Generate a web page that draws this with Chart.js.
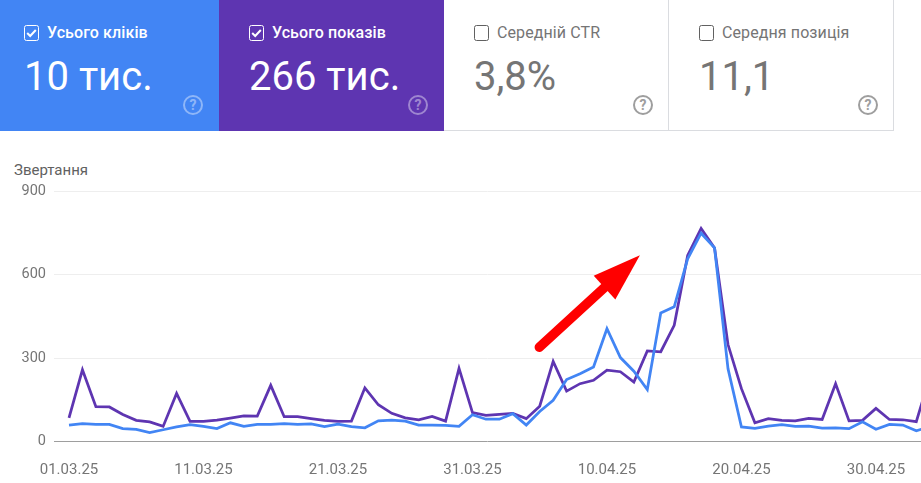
<!DOCTYPE html>
<html lang="uk">
<head>
<meta charset="utf-8">
<title>Звертання</title>
<script src="https://cdn.jsdelivr.net/npm/chart.js@4"></script>
<style>
  html, body { margin: 0; padding: 0; background: #fff; }
  body { width: 921px; height: 483px; position: relative; overflow: hidden; font-family: Roboto, sans-serif; }
  #chart { position: absolute; left: 0; top: 0; }
  .card { position: absolute; top: 0; height: 131px; box-sizing: border-box; }
  .card.on { color: #fff; }
  .card.off { color: #757575; border-right: 1px solid #dadce0; border-bottom: 1px solid #dadce0; }
  .card svg { position: absolute; top: 25px; }
  .card .name { position: absolute; top: 23px; font-size: 16px; line-height: 20px; white-space: nowrap; letter-spacing: .1px; }
  .card.on .name { font-weight: 500; }
  .card .num { position: absolute; top: 53px; font-size: 40px; line-height: 48px; white-space: nowrap; }
  .card .help {
    position: absolute; top: 95px; width: 16px; height: 16px;
    border: 2px solid #9e9e9e; color: #9e9e9e; border-radius: 50%;
    font-size: 14px; line-height: 16px; font-weight: 700; text-align: center;
  }
  .card.on .help { border-color: #fff; color: #fff; opacity: .4; }
  #title { position: absolute; left: 14px; top: 161px; font-size: 15px; line-height: 18px; color: #616161; }
</style>
</head>
<body>
<div id="cards"></div>
<div id="title">Звертання</div>
<canvas id="chart" width="921" height="483"></canvas>
<script>
const cardNames = ["Усього кліків", "Усього показів", "Середній CTR", "Середня позиція"];
const cardValues = ["10 тис.", "266 тис.", "3,8%", "11,1"];
const cardLefts = [0, 219, 444, 669];
const cardWidths = [219, 225, 225, 225];
const cardPads = [24, 30, 30, 30];
const cardColors = ["#4285f4", "#5e35b1", "#fff", "#fff"];
const cardChecked = [true, true, false, false];

const yTicks = [0, 300, 600, 900];
const tickDays = [0, 10, 20, 30, 40, 50, 60];
const tickDates = ["01.03.25", "11.03.25", "21.03.25", "31.03.25", "10.04.25", "20.04.25", "30.04.25"];

const clicks = [
  59, 64, 61, 61, 46, 43, 32, 42, 52, 60,
  54, 46, 67, 54, 61, 61, 64, 61, 63, 53,
  62, 53, 49, 74, 77, 73, 59, 59, 58, 54,
  96, 80, 80, 100, 59, 108, 148, 223, 244, 268,
  406, 302, 253, 187, 463, 485, 658, 750, 697, 262,
  52, 47, 55, 60, 54, 55, 48, 49, 46, 71,
  44, 61, 59, 38, 53,
];
const impressions = [
  85, 258, 125, 124, 97, 76, 70, 54, 173, 72,
  72, 77, 84, 92, 91, 202, 89, 89, 82, 76,
  72, 73, 193, 132, 101, 85, 78, 90, 73, 263,
  104, 94, 97, 101, 82, 127, 288, 181, 208, 220,
  257, 251, 214, 326, 323, 418, 670, 767, 697, 349,
  190, 67, 82, 76, 74, 83, 79, 208, 74, 76,
  119, 79, 78, 71, 233,
];

// arrow position in chart units (day index, value)
const arrowTail = { x: 34.97, y: 339 };
const arrowTip = { x: 42.45, y: 671 };

// --- Cards -------------------------------------------------------------

function checkbox(on, left) {
  if (on) {
    return `<svg style="left:${left}px" width="16" height="16" viewBox="0 0 16 16" fill="none">
      <rect x=".5" y=".5" width="14" height="15" rx="2" stroke="#fff"/>
      <path d="M3.2 8l3 3 5.6-6" stroke="#fff" stroke-width="2"/></svg>`;
  }
  return `<svg style="left:${left}px" width="16" height="16" viewBox="0 0 16 16" fill="none">
    <rect x=".5" y=".5" width="14" height="15" rx="2" stroke="#616161"/></svg>`;
}

const cards = document.querySelector("#cards");
cardNames.forEach((name, i) => {
  const pad = cardPads[i];
  const el = document.createElement("div");
  el.className = "card " + (cardChecked[i] ? "on" : "off");
  el.style.left = cardLefts[i] + "px";
  el.style.width = cardWidths[i] + "px";
  el.style.background = cardColors[i];
  el.innerHTML = `${checkbox(cardChecked[i], pad)}
    <div class="name" style="left:${pad + 23}px">${name}</div>
    <div class="num" style="left:${pad}px">${cardValues[i]}</div>
    <div class="help" style="left:${pad + 159}px">?</div>`;
  cards.appendChild(el);
});

// --- Chart -------------------------------------------------------------

const arrowPlugin = {
  id: "arrow",
  afterDatasetsDraw(chart) {
    const { ctx, scales: { x, y } } = chart;
    const x0 = x.getPixelForValue(arrowTail.x), y0 = y.getPixelForValue(arrowTail.y);
    const x1 = x.getPixelForValue(arrowTip.x), y1 = y.getPixelForValue(arrowTip.y);
    const angle = Math.atan2(y1 - y0, x1 - x0);
    const headLen = 48, headHalf = 16;
    const bx = x1 - Math.cos(angle) * headLen, by = y1 - Math.sin(angle) * headLen;
    ctx.save();
    ctx.strokeStyle = ctx.fillStyle = "#ff0000";
    ctx.lineWidth = 9.5;
    ctx.lineCap = "round";
    ctx.beginPath();
    ctx.moveTo(x0, y0);
    ctx.lineTo(bx, by);
    ctx.stroke();
    ctx.beginPath();
    ctx.moveTo(x1, y1);
    ctx.lineTo(bx + Math.sin(angle) * headHalf, by - Math.cos(angle) * headHalf);
    ctx.lineTo(bx - Math.sin(angle) * headHalf, by + Math.cos(angle) * headHalf);
    ctx.closePath();
    ctx.fill();
    ctx.restore();
  },
};

new Chart(document.querySelector("#chart"), {
  type: "line",
  data: {
    datasets: [
      { label: "Кліки", data: clicks.map((v, i) => ({ x: i, y: v })), borderColor: "#4285f4", borderWidth: 2.75 },
      { label: "Покази", data: impressions.map((v, i) => ({ x: i, y: v })), borderColor: "#5e35b1", borderWidth: 2.75 },
    ],
  },
  plugins: [arrowPlugin],
  options: {
    responsive: false,
    animation: false,
    layout: { padding: { top: 191.6, right: 0, left: 0, bottom: 0 } },
    elements: { point: { radius: 0 }, line: { tension: 0, borderJoinStyle: "miter" } },
    plugins: { legend: { display: false }, tooltip: { enabled: false } },
    scales: {
      x: {
        type: "linear",
        min: -1.115,
        max: 63.35,
        afterBuildTicks: (axis) => { axis.ticks = tickDays.map((value) => ({ value })); },
        afterFit: (axis) => { axis.height = 41.6; },
        grid: { display: false },
        border: { display: false },
        ticks: {
          autoSkip: false,
          maxRotation: 0,
          padding: 12,
          color: "#757575",
          font: { family: "Roboto", size: 15 },
          callback: (v) => tickDates[tickDays.indexOf(v)],
        },
      },
      y: {
        min: 0,
        max: 900,
        afterBuildTicks: (axis) => { axis.ticks = yTicks.map((value) => ({ value })); },
        afterFit: (axis) => { axis.width = 54; },
        border: { display: false },
        grid: {
          drawTicks: false,
          lineWidth: 1,
          color: (c) => (c.tick.value === 0 ? "#9e9e9e" : "#eeeeee"),
        },
        ticks: {
          padding: 8,
          color: "#757575",
          font: { family: "Roboto", size: 14.5 },
        },
      },
    },
  },
});
</script>
</body>
</html>
